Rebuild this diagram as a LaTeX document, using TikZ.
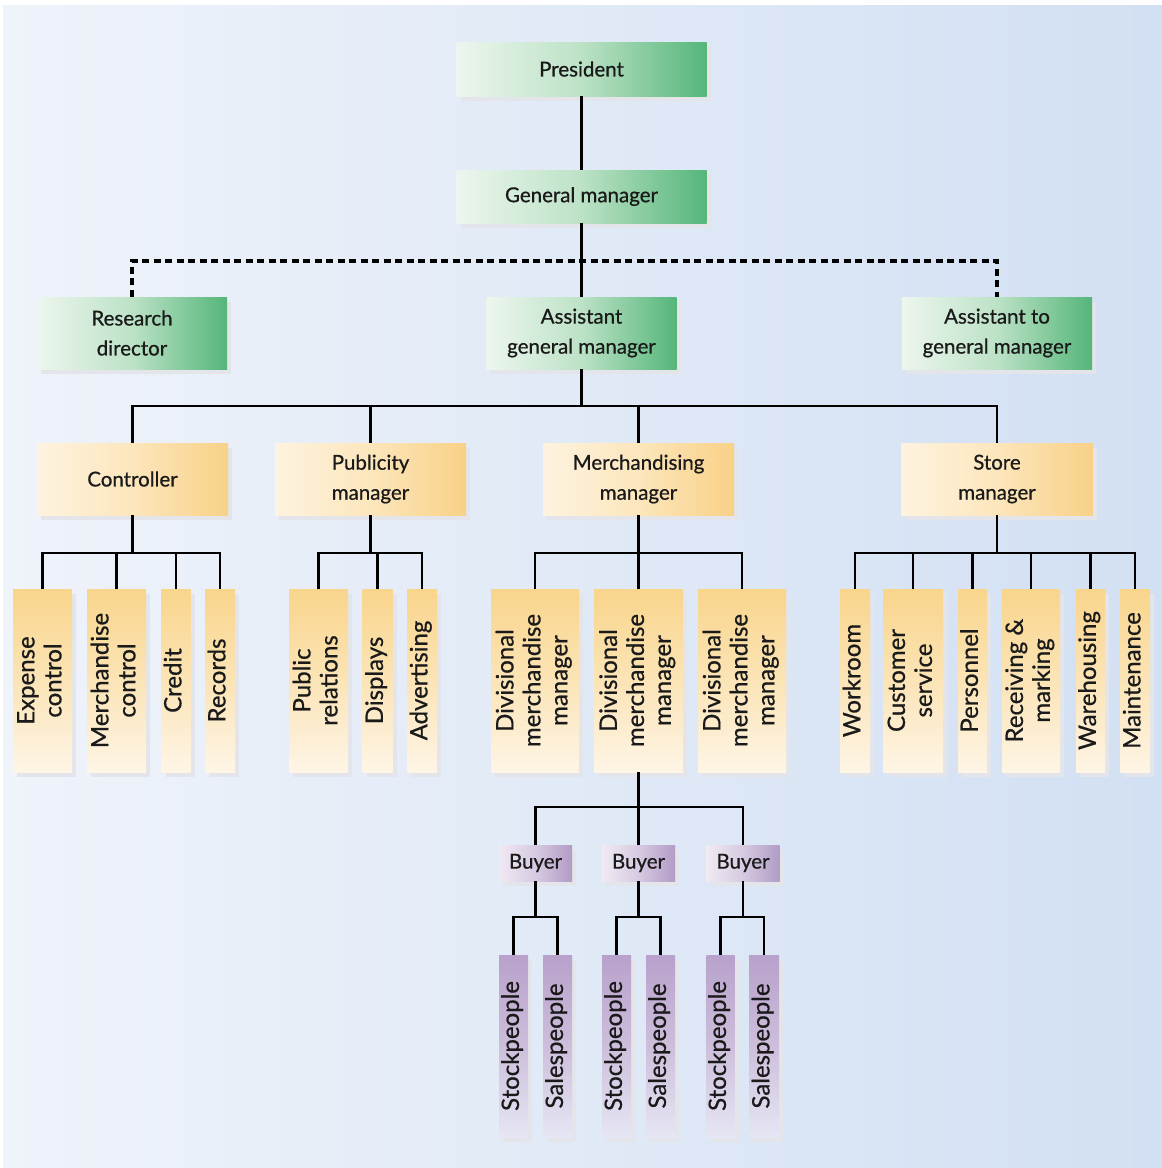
\documentclass[tikz,border=0pt]{standalone}
\usepackage{fontspec}
\setmainfont{Lato}[FakeBold=0.7]
\usetikzlibrary{shadows}

% palette
\definecolor{bgL}{HTML}{EFF3FA}
\definecolor{bgR}{HTML}{D2E0F3}
\definecolor{txt}{HTML}{1A1A1A}
\definecolor{shd}{HTML}{E3E5EA}
\definecolor{grL}{HTML}{EDF6EE}
\definecolor{grM}{HTML}{BCE2C6}
\definecolor{grR}{HTML}{55B67A}
\definecolor{orL}{HTML}{FEF3E0}
\definecolor{orM}{HTML}{FCE6BC}
\definecolor{orR}{HTML}{F8D187}
\definecolor{ovT}{HTML}{F9D58C}
\definecolor{ovM}{HTML}{FBE4B6}
\definecolor{ovB}{HTML}{FEF5E6}
\definecolor{puL}{HTML}{F0EAF3}
\definecolor{puM}{HTML}{D6CAE1}
\definecolor{puR}{HTML}{B29CC6}
\definecolor{pvT}{HTML}{B8A1CB}
\definecolor{pvM}{HTML}{CDBEDB}
\definecolor{pvB}{HTML}{E6E6F4}

% rotated caption for the tall boxes
\newcommand\vtext[1]{\rotatebox{90}{\fontsize{24}{27}\selectfont\begin{tabular}{@{}c@{}}#1\end{tabular}}}

\begin{document}
\begin{tikzpicture}[x=1pt,y=-1pt,
  base/.style={rectangle, inner sep=0pt, text=txt,
    general shadow={shadow xshift=4pt, shadow yshift=-5pt, fill=shd}},
  hlabel/.style={base, align=center, font=\fontsize{20.5}{30}\selectfont},
  greenbox/.style={hlabel, left color=grL, right color=grR, middle color=grM,
    minimum width=190pt, minimum height=72pt},
  orangebox/.style={hlabel, left color=orL, right color=orR, middle color=orM,
    minimum width=191pt, minimum height=72pt},
  buyerbox/.style={hlabel, left color=puL, right color=puR, middle color=puM,
    minimum width=73pt, minimum height=36pt},
  orangecol/.style={base, top color=ovT, bottom color=ovB, middle color=ovM,
    minimum height=183pt, minimum width=#1},
  purplecol/.style={base, top color=pvT, bottom color=pvB, middle color=pvM,
    minimum height=182pt, minimum width=#1},
  link/.style={line width=2.8pt, black},
  dashlink/.style={line width=3.4pt, black, dash pattern=on 7pt off 4.5pt},
]
% page and background
\fill[white] (0,0) rectangle (1162,1168);
\shade[left color=bgL, right color=bgR] (3,5) rectangle (1162,1168);
\useasboundingbox (0,0) rectangle (1162,1168);

% top of the hierarchy
\node[greenbox, minimum width=250pt, minimum height=54pt] (pres) at (581.5,69) {President};
\node[greenbox, minimum width=250pt, minimum height=53pt] (gm) at (581.5,196.5) {General manager};
\node[greenbox] (rd)   at (132,333)   {Research\\director};
\node[greenbox] (agm)  at (581.5,333) {Assistant\\general manager};
\node[greenbox] (atgm) at (997,333)   {Assistant to\\general manager};

% department heads
\node[orangebox] (ctrl)  at (132.5,479) {Controller};
\node[orangebox] (pub)   at (370.5,479) {Publicity\\manager};
\node[orangebox] (merch) at (638.5,479) {Merchandising\\manager};
\node[orangebox] (store) at (997,479)   {Store\\manager};

% controller's units
\node[orangecol=59pt] (ec)  at (42.5,680.5)  {\vtext{Expense\\control}};
\node[orangecol=59pt] (mc)  at (116.5,680.5) {\vtext{Merchandise\\control}};
\node[orangecol=29pt] (cr)  at (176,680.5)   {\vtext{Credit}};
\node[orangecol=30pt] (rec) at (220,680.5)   {\vtext{Records}};
% publicity units
\node[orangecol=59pt] (pr)  at (318.5,680.5) {\vtext{Public\\relations}};
\node[orangecol=30pt] (dis) at (377.5,680.5) {\vtext{Displays}};
\node[orangecol=30pt] (adv) at (422,680.5)   {\vtext{Advertising}};
% divisional managers
\node[orangecol=88pt] (dm1) at (535,680.5)   {\vtext{Divisional\\merchandise\\manager}};
\node[orangecol=89pt] (dm2) at (638.5,680.5) {\vtext{Divisional\\merchandise\\manager}};
\node[orangecol=88pt] (dm3) at (742,680.5)   {\vtext{Divisional\\merchandise\\manager}};
% store units
\node[orangecol=30pt] (wr) at (855,680.5)    {\vtext{Workroom}};
\node[orangecol=60pt] (cs) at (913,680.5)    {\vtext{Customer\\service}};
\node[orangecol=29pt] (pe) at (972.5,680.5)  {\vtext{Personnel}};
\node[orangecol=58pt] (rm) at (1031,680.5)   {\vtext{Receiving \&\\marking}};
\node[orangecol=29pt] (wh) at (1090.5,680.5) {\vtext{Warehousing}};
\node[orangecol=30pt] (mt) at (1135,680.5)   {\vtext{Maintenance}};

% buyers
\node[buyerbox] (by1) at (535.5,863) {Buyer};
\node[buyerbox] (by2) at (638.5,863) {Buyer};
\node[buyerbox] (by3) at (743,863)   {Buyer};
% floor staff
\node[purplecol=29pt] (st1) at (513.5,1046) {\vtext{Stockpeople}};
\node[purplecol=29pt] (sa1) at (557.5,1046) {\vtext{Salespeople}};
\node[purplecol=29pt] (st2) at (616.5,1046) {\vtext{Stockpeople}};
\node[purplecol=29pt] (sa2) at (660.5,1046) {\vtext{Salespeople}};
\node[purplecol=28pt] (st3) at (720.5,1046) {\vtext{Stockpeople}};
\node[purplecol=30pt] (sa3) at (764,1046)   {\vtext{Salespeople}};

% bus levels
\coordinate (busA) at (0,261);
\coordinate (busB) at (0,406);
\coordinate (busC) at (0,553);
\coordinate (busD) at (0,807);
\coordinate (busE) at (0,917);

% staff links
\draw[dashlink] (rd.north) -- (rd.north|-busA) -| (atgm.north);

% line links
\draw[link] (pres.south) -- (gm.north);
\draw[link] (gm.south) -- (agm.north);
\foreach \c in {ctrl,pub,merch,store}
  \draw[link] (agm.south) -- (agm.south|-busB) -| (\c.north);
\foreach \c in {ec,mc,cr,rec}
  \draw[link] (ctrl.south) -- (ctrl.south|-busC) -| (\c.north);
\foreach \c in {pr,dis,adv}
  \draw[link] (pub.south) -- (pub.south|-busC) -| (\c.north);
\foreach \c in {dm1,dm2,dm3}
  \draw[link] (merch.south) -- (merch.south|-busC) -| (\c.north);
\foreach \c in {wr,cs,pe,rm,wh,mt}
  \draw[link] (store.south) -- (store.south|-busC) -| (\c.north);
\foreach \c in {by1,by2,by3}
  \draw[link] (dm2.south) -- (dm2.south|-busD) -| (\c.north);
\foreach \b/\s/\t in {by1/st1/sa1,by2/st2/sa2,by3/st3/sa3}{
  \draw[link] (\b.south) -- (\b.south|-busE) -| (\s.north);
  \draw[link] (\b.south) -- (\b.south|-busE) -| (\t.north);
}
\end{tikzpicture}
\end{document}
